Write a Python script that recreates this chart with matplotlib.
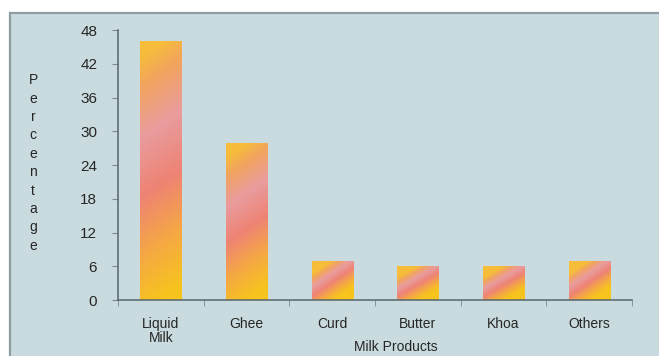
import matplotlib.pyplot as plt
import numpy as np
from matplotlib.colors import LinearSegmentedColormap
from matplotlib.patches import Rectangle

products = ['Liquid\nMilk', 'Ghee', 'Curd', 'Butter', 'Khoa', 'Others']
percent = [46, 28, 7, 6, 6, 7]
y_ticks = [0, 6, 12, 18, 24, 30, 36, 42, 48]

plt.rcParams['font.family'] = ['Liberation Sans', 'DejaVu Sans']

panel_bg = '#c9dbde'
text_col = '#262626'

fig = plt.figure(figsize=(6.59, 3.56), dpi=100)
fig.patch.set_facecolor('white')

# light blue panel behind the chart, cut off at the right/bottom edge
panel = Rectangle((10 / 659, -0.05), 1.0, (356 - 13) / 356 + 0.05, transform=fig.transFigure,
                  facecolor=panel_bg, edgecolor='#8d9ea3', linewidth=1.6, zorder=-5)
fig.patches.append(panel)

ax = fig.add_axes([118 / 659, 56 / 356, (632 - 118) / 659, (300 - 30) / 356])
ax.set_facecolor('none')
ax.set_zorder(2)

# yellow -> salmon -> pink -> orange blend used on the bars
cmap = LinearSegmentedColormap.from_list('milk', [
    (0.0, '#f7c41e'), (0.22, '#f5a844'), (0.45, '#ee8374'),
    (0.68, '#e99c9e'), (0.88, '#f2a45e'), (1.0, '#f6bd3a')])

x = np.arange(len(products))
bars = ax.bar(x, percent, width=0.48, color='none', edgecolor='none', zorder=2)

for rect, h in zip(bars, percent):
    x0 = rect.get_x()
    w = rect.get_width()
    xx, yy = np.meshgrid(np.linspace(0, 1, 40), np.linspace(0, 1, 200))
    # diagonal blend: slant stronger on short bars
    slant = min(0.35, 2.5 / h)
    s = np.clip(yy - slant * (xx - 0.5) * 2, 0, 1)
    img = ax.imshow(s, cmap=cmap, vmin=0, vmax=1, origin='lower', aspect='auto',
                    extent=[x0, x0 + w, 0, h], zorder=2, interpolation='bilinear')
    img.set_clip_path(rect)

ax.set_xlim(-0.5, len(products) - 0.5)
ax.set_ylim(0, 48)

for side in ['top', 'right']:
    ax.spines[side].set_visible(False)
for side in ['left', 'bottom']:
    ax.spines[side].set_color('#56666b')
    ax.spines[side].set_linewidth(1.1)

ax.set_yticks(y_ticks)
ax.tick_params(axis='y', length=4, color='#7a8a8f', pad=11, labelsize=11,
               labelcolor=text_col)
ax.set_xticks(x)
ax.set_xticklabels(products, linespacing=1.0)
ax.set_xticks(np.arange(len(products) + 1) - 0.5, minor=True)
ax.tick_params(axis='x', which='major', length=0, pad=12, labelsize=10,
               labelcolor=text_col)
ax.tick_params(axis='x', which='minor', length=4, color='#7a8a8f')

fig.text(396 / 659, 2 / 356, 'Milk Products', ha='center', va='bottom',
         fontsize=10, color=text_col)
fig.text(33 / 659, (356 - 163) / 356, '\n'.join('Percentage'), ha='center',
         va='center', fontsize=10, color=text_col, linespacing=1.4)

fig.savefig('out.png', dpi=100, facecolor=fig.get_facecolor())
